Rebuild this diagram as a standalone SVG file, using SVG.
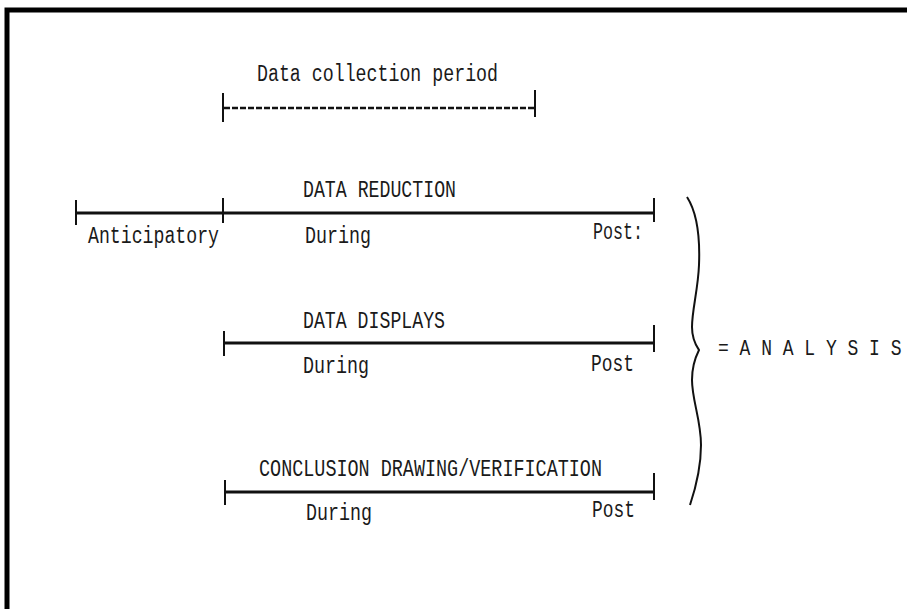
<svg xmlns="http://www.w3.org/2000/svg" width="907" height="609" viewBox="0 0 907 609">
<style>
.t{font-family:"Liberation Mono","DejaVu Sans Mono",monospace;font-size:23px;fill:#1a1a1a}
.a{font-family:"Liberation Mono","DejaVu Sans Mono",monospace;font-size:18px;fill:#1a1a1a}
.ln{stroke:#111;stroke-width:3;fill:none}
.tk{stroke:#111;stroke-width:2;fill:none}
.ds{stroke:#111;stroke-width:2.5;stroke-dasharray:6 2;fill:none}
</style>
<rect x="0" y="0" width="907" height="609" fill="#fff"/>
<path d="M7,620 V10 H920" fill="none" stroke="#000" stroke-width="5"/>
<g id="title"><text class="t" x="257" y="81" textLength="241" lengthAdjust="spacingAndGlyphs">Data collection period</text></g>
<g id="connectors">
<line class="ds" x1="224" y1="108" x2="534" y2="108"/>
<line class="tk" x1="223" y1="93" x2="223" y2="122"/>
<line class="tk" x1="535" y1="90" x2="535" y2="117"/>
<line class="ln" x1="76" y1="213" x2="654" y2="213"/>
<line class="tk" x1="76" y1="200" x2="76" y2="225"/>
<line class="tk" x1="223" y1="198" x2="223" y2="223"/>
<line class="tk" x1="654" y1="198" x2="654" y2="222"/>
<line class="ln" x1="224" y1="343" x2="654" y2="343"/>
<line class="tk" x1="224" y1="331" x2="224" y2="356"/>
<line class="tk" x1="654" y1="325" x2="654" y2="352"/>
<line class="ln" x1="225" y1="492" x2="654" y2="492"/>
<line class="tk" x1="225" y1="480" x2="225" y2="505"/>
<line class="tk" x1="654" y1="473" x2="654" y2="500"/>
<path d="M687,197 C698,214 700,240 699,265 C698,290 692,310 692,327 C692,340 697,347 699,350 C697,354 692,365 692,380 C692,400 701,420 701,445 C701,470 695,490 690,505" fill="none" stroke="#111" stroke-width="2"/>
</g>
<g id="reduction">
<text class="t" x="303" y="197" textLength="153" lengthAdjust="spacingAndGlyphs">DATA REDUCTION</text>
<text class="t" x="88" y="243" textLength="131" lengthAdjust="spacingAndGlyphs">Anticipatory</text>
<text class="t" x="305" y="243" textLength="66" lengthAdjust="spacingAndGlyphs">During</text>
<text class="t" x="593" y="239" textLength="50" lengthAdjust="spacingAndGlyphs">Post:</text>
</g>
<g id="displays">
<text class="t" x="303" y="328" textLength="142" lengthAdjust="spacingAndGlyphs">DATA DISPLAYS</text>
<text class="t" x="303" y="373" textLength="66" lengthAdjust="spacingAndGlyphs">During</text>
<text class="t" x="591" y="371" textLength="43" lengthAdjust="spacingAndGlyphs">Post</text>
</g>
<g id="conclusion">
<text class="t" x="259" y="476" textLength="343" lengthAdjust="spacingAndGlyphs">CONCLUSION DRAWING/VERIFICATION</text>
<text class="t" x="306" y="520" textLength="66" lengthAdjust="spacingAndGlyphs">During</text>
<text class="t" x="592" y="517" textLength="43" lengthAdjust="spacingAndGlyphs">Post</text>
</g>
<g id="analysis">
<text class="a" transform="translate(718,355) scale(1,1.25)" x="0" y="0">= A N A L Y S I S</text>
</g>
</svg>
